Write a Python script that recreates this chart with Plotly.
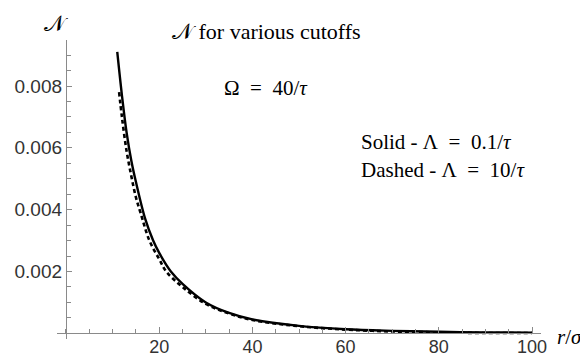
import plotly.graph_objects as go

# Solid curve: Lambda = 0.1/tau
r_solid = [11, 12, 13, 14, 15, 17, 18.7, 20, 22.5, 25, 30, 35, 40, 50, 60, 70, 80, 90, 100]
n_solid = [0.0091, 0.0077, 0.0065, 0.0056, 0.0049, 0.0037, 0.0030, 0.0026, 0.0020, 0.0016,
           0.0010, 0.00066, 0.00045, 0.00024, 0.00013, 0.00008, 0.00005, 0.00003, 0.00002]

# Dashed curve: Lambda = 10/tau
r_dashed = [11.4, 12, 13, 14, 15, 16, 17.9, 20, 21.5, 25, 30, 35, 40, 50, 60, 70, 80, 90, 100]
n_dashed = [0.0078, 0.0070, 0.0059, 0.0051, 0.0044, 0.0039, 0.0030, 0.0024, 0.0020, 0.0015,
            0.00095, 0.00064, 0.00043, 0.00023, 0.00012, 0.00006, 0.00003, 0.00001, 0.00001]

x_ticks = [20, 40, 60, 80, 100]
x_ticklabels = ["20", "40", "60", "80", "100"]
y_ticks = [0.002, 0.004, 0.006, 0.008]
y_ticklabels = ["0.002", "0.004", "0.006", "0.008"]

serif = "Liberation Serif"
sans = "Liberation Sans"
axis_col = "#8a8a8a"

fig = go.Figure()
fig.add_trace(go.Scatter(x=r_dashed, y=n_dashed, mode="lines",
                         line=dict(color="black", width=2.6, dash="4px,3px", shape="spline"),
                         showlegend=False, hoverinfo="skip"))
fig.add_trace(go.Scatter(x=r_solid, y=n_solid, mode="lines",
                         line=dict(color="black", width=2.4, shape="spline"),
                         showlegend=False, hoverinfo="skip"))

fig.update_layout(
    template="none",
    width=580, height=350,
    margin=dict(l=49, r=47, t=32, b=19, autoexpand=False),
    paper_bgcolor="white", plot_bgcolor="white",
    xaxis=dict(range=[-1.93, 101.93], anchor="free", position=0.019, automargin=False,
               showgrid=False, zeroline=False, showline=True, linecolor=axis_col, linewidth=1.3,
               tickmode="array", tickvals=x_ticks, ticktext=x_ticklabels,
               ticks="inside", ticklen=6, tickcolor=axis_col, tickwidth=1,
               ticklabelstandoff=-3,
               tickfont=dict(family=sans, size=18, color="#333"),
               minor=dict(tick0=0, dtick=5, ticks="inside", ticklen=4, tickcolor=axis_col, tickwidth=1)),
    yaxis=dict(range=[-0.000184, 0.009488], anchor="free", position=0.0186, automargin=False,
               showgrid=False, zeroline=False, showline=True, linecolor=axis_col, linewidth=1.3,
               tickmode="array", tickvals=y_ticks, ticktext=y_ticklabels,
               ticks="inside", ticklen=5, tickcolor=axis_col, tickwidth=1,
               tickfont=dict(family=sans, size=19, color="#333"),
               minor=dict(tick0=0, dtick=0.0005, ticks="inside", ticklen=3.5, tickcolor=axis_col, tickwidth=1)),
)

def note(text, x, y, xanchor="left", size=21, yanchor="middle"):
    fig.add_annotation(text=text, x=x, y=y, xref="paper", yref="paper",
                       xanchor=xanchor, yanchor=yanchor, showarrow=False,
                       font=dict(family=serif, size=size, color="black"))

note("𝒩", -0.002, 1.105, xanchor="center", size=22, yanchor="top")
note("𝒩 for various cutoffs", 0.2335, 1.027, size=22)
note("Ω\u2002=\u200240/<i>τ</i>", 0.341, 0.839)
note("Solid - Λ\u2002=\u20020.1/<i>τ</i>", 0.624, 0.659)
note("Dashed - Λ\u2002=\u200210/<i>τ</i>", 0.624, 0.565)
note("<i>r</i>/<i>σ</i>", 1.029, 0.0067)

fig.write_html("out.html")
